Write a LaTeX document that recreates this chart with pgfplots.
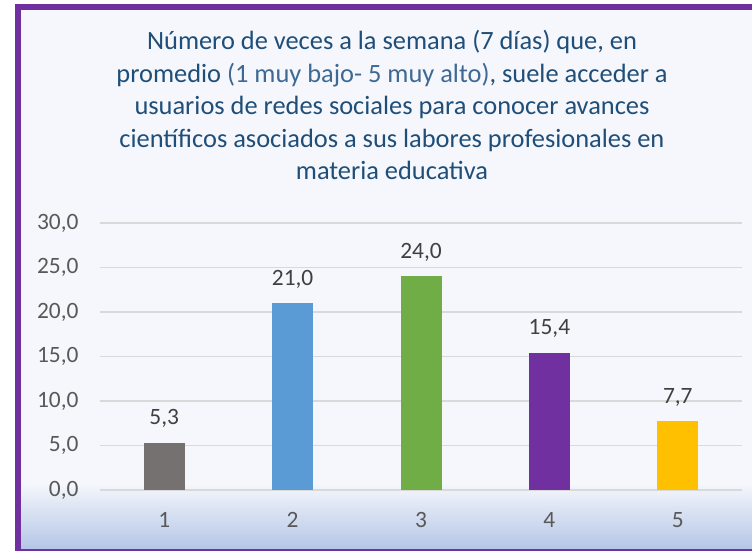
\documentclass[border=0pt]{standalone}
\usepackage{fontspec}
\setmainfont{Carlito}
\usepackage{pgfplots}
\pgfplotsset{compat=1.18}

\definecolor{bgc}{HTML}{F5F7FC}
\definecolor{gradc}{HTML}{B4C6E6}
\definecolor{borderc}{HTML}{7030A0}
\definecolor{titlec}{HTML}{1F4E79}
\definecolor{subc}{HTML}{3D6994}
\definecolor{gridc}{HTML}{D9D9D9}
\definecolor{tickc}{HTML}{595959}
\definecolor{labc}{HTML}{404040}
\definecolor{c1}{HTML}{767171}
\definecolor{c2}{HTML}{5B9BD5}
\definecolor{c3}{HTML}{70AD47}
\definecolor{c4}{HTML}{7030A0}
\definecolor{c5}{HTML}{FFC000}

\newcommand\titlefont{\fontsize{26.5}{32}\selectfont}
\newcommand\tickfont{\fontsize{23.5}{28}\selectfont}

\begin{document}
\begin{tikzpicture}[x=1bp,y=1bp]
\path[use as bounding box] (0,0) rectangle (752,551);
% background and frame
\fill[bgc] (21,2) rectangle (752,541);
\shade[top color=bgc, bottom color=gradc] (21,2) rectangle (752,68);
\fill[borderc] (15,0) rectangle (21,547);
\fill[borderc] (15,541) rectangle (752,547);
\fill[borderc] (15,0) rectangle (752,2);

% title, one node per line
\begin{scope}[every node/.style={anchor=base, inner sep=0pt, text=titlec, font=\titlefont}]
\node at (392,501) {Número de veces a la semana (7 días) que, en};
\node at (392,468.5) {promedio {\color{subc}(1 muy bajo- 5 muy alto)}, suele acceder a};
\node at (392,436) {usuarios de redes sociales para conocer avances};
\node at (392,403.5) {científicos asociados a sus labores profesionales en};
\node at (392,371) {materia educativa};
\end{scope}

\begin{axis}[
    at={(100bp,61bp)}, anchor=south west,
    scale only axis,
    width=642bp, height=267bp,
    xmin=0.5, xmax=5.5,
    ymin=0, ymax=30,
    ytick={0,5,...,30},
    xtick={1,2,3,4,5},
    xticklabels={1,2,3,4,5},
    axis line style={draw=none},
    major tick length=0pt,
    ymajorgrids,
    grid style={gridc, line width=1.5bp},
    ybar, bar width=41bp, bar shift=0pt,
    tick label style={font=\tickfont, text=tickc},
    yticklabel style={anchor=east, xshift=-18bp},
    xticklabel style={anchor=base, yshift=-38bp},
    nodes near coords,
    nodes near coords style={font=\tickfont, text=labc, anchor=base, yshift=18bp},
    /pgf/number format/.cd, use comma, fixed, fixed zerofill, precision=1, assume math mode=true
]
\addplot[fill=c1, draw=none] coordinates {(1,5.3)};
\addplot[fill=c2, draw=none] coordinates {(2,21.0)};
\addplot[fill=c3, draw=none] coordinates {(3,24.0)};
\addplot[fill=c4, draw=none] coordinates {(4,15.4)};
\addplot[fill=c5, draw=none] coordinates {(5,7.7)};
\end{axis}
\end{tikzpicture}
\end{document}
